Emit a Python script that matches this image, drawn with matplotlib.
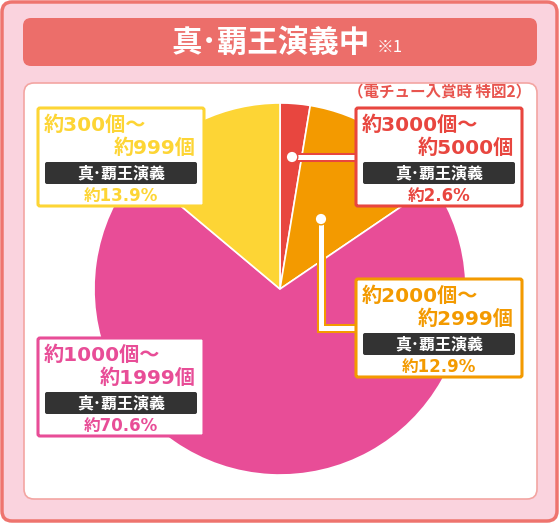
import matplotlib
matplotlib.use("Agg")
import matplotlib.pyplot as plt
from matplotlib.patches import FancyBboxPatch, Circle

plt.rcParams['font.family'] = ['Noto Sans CJK JP', 'DejaVu Sans']
NUM_FONT = ['DejaVu Sans', 'Noto Sans CJK JP']

# data (clockwise from top)
ranges_from = ["約3000個～", "約2000個～", "約1000個～", "約300個～"]
ranges_to = ["約5000個", "約2999個", "約1999個", "約999個"]
shares = [2.6, 12.9, 70.6, 13.9]
mode_label = "真･覇王演義"
title = "真･覇王演義中"
note = "※1"
subtitle = "（電チュー入賞時 特図2）"

colors = ["#E8463F", "#F39A00", "#E84D97", "#FDD535"]
box_xy = [(356, 108), (356, 279), (38, 338), (38, 108)]
BOX_W, BOX_H = 166, 98

fig = plt.figure(figsize=(5.6, 5.24), dpi=100)
ax = fig.add_axes([0, 0, 1, 1])


def rbox(x, y, w, h, r, fc, ec, lw, z):
    p = FancyBboxPatch((x, y), w, h, boxstyle=f"round,pad=0,rounding_size={r}",
                       fc=fc, ec=ec, lw=lw, zorder=z)
    ax.add_patch(p)


# frames
rbox(2, 2, 555, 519, 10, '#FAD3DE', '#EE746E', 2.5, 0)
rbox(24, 83, 513, 416, 10, 'white', '#F3A5A2', 1.2, 1)
rbox(23, 18, 514, 48, 8, '#EC6E6A', 'none', 0, 1)

ax.text(271, 43, title, color='white', fontsize=22, fontweight='bold',
        ha='center', va='center', zorder=3)
ax.text(377, 47, note, color='white', fontsize=12, ha='left', va='center', zorder=3)
ax.text(531, 91, subtitle, color='#E8554F', fontsize=11.2, fontweight='bold',
        ha='right', va='center', zorder=3)

# pie
ax.pie(shares, colors=colors, startangle=270, counterclock=True, radius=186,
       center=(280, 289), frame=True,
       wedgeprops=dict(edgecolor='white', linewidth=1.2, zorder=2))

# leader lines
leaders = [([292, 356], [157, 157]), ([321, 321, 356], [219, 328, 328])]
for (xs, ys), c in zip(leaders, colors[:2]):
    ax.plot(xs, ys, color=c, lw=6.5, solid_capstyle='butt', solid_joinstyle='miter', zorder=4)
    ax.plot(xs, ys, color='white', lw=3.6, solid_capstyle='butt', solid_joinstyle='miter', zorder=5)
    ax.add_patch(Circle((xs[0], ys[0]), 5.8, fc='white', ec=c, lw=1.0, zorder=6))

# label boxes
for i, c in enumerate(colors):
    bx, by = box_xy[i]
    rbox(bx, by, BOX_W, BOX_H, 2, 'white', c, 2.2, 7)
    ax.text(bx + 6, by + 17, ranges_from[i], color=c, fontsize=14.5, fontweight='bold',
            family=NUM_FONT, ha='left', va='center', zorder=8)
    ax.text(bx + BOX_W - 8, by + 40, ranges_to[i], color=c, fontsize=14.5, fontweight='bold',
            family=NUM_FONT, ha='right', va='center', zorder=8)
    rbox(bx + 7, by + 54, BOX_W - 14, 22, 2, '#333333', 'none', 0, 8)
    ax.text(bx + BOX_W / 2, by + 65, mode_label, color='white', fontsize=11.5,
            fontweight='bold', ha='center', va='center', zorder=9)
    ax.text(bx + BOX_W / 2, by + 88, f"約{shares[i]}%", color=c, fontsize=12,
            fontweight='bold', family=NUM_FONT, ha='center', va='center', zorder=8)

ax.set_xlim(0, 560)
ax.set_ylim(524, 0)
ax.set_aspect('equal')
ax.axis('off')

fig.savefig('out.png', dpi=100)
